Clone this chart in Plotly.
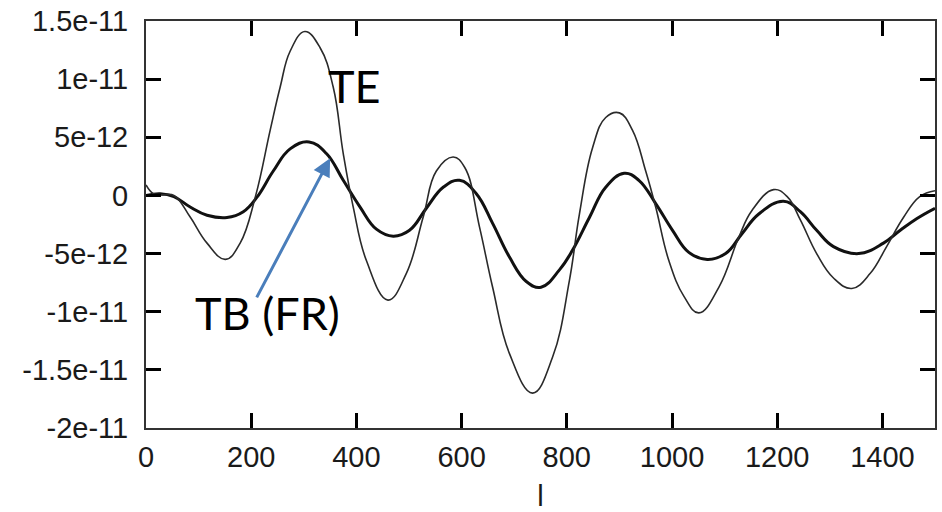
import numpy as np
import plotly.graph_objects as go

UNIT = 1e-12

# TE curve (thin line): multipole l and value (in units of 1e-12)
te_l = [0, 14, 30, 53, 84, 116, 151, 179, 208, 236, 255, 274, 302, 331, 356, 375, 394,
        419, 460, 495, 527, 552, 584, 606, 634, 659, 691, 735, 773, 805, 824, 849, 874,
        900, 925, 950, 969, 994, 1023, 1051, 1089, 1127, 1152, 1193, 1219, 1244, 1275,
        1307, 1342, 1377, 1408, 1440, 1471, 1500]
te_v = [0.9, 0.15, 0.05, 0.0, -1.86, -4.1, -5.5, -4.1, -0.1, 5.6, 9.3, 12.4, 14.1, 12.7, 9.3,
        3.6, -1.0, -5.6, -9.0, -6.7, -1.86, 2.1, 3.3, 2.4, -2.7, -7.9, -13.6, -17.0, -13.9,
        -7.3, -1.6, 4.1, 6.7, 7.1, 5.6, 2.1, -1.0, -5.6, -8.7, -10.1, -7.9, -3.6, -1.3, 0.5,
        -0.1, -2.1, -5.0, -7.1, -8.0, -6.7, -4.4, -1.9, -0.1, 0.4]

# TB (FR) curve (thick line)
tb_l = [0, 27, 53, 84, 116, 154, 185, 211, 242, 274, 310, 343, 375, 407, 438, 470, 501, 533,
        565, 596, 628, 659, 691, 723, 751, 786, 811, 843, 874, 909, 937, 969, 1001, 1032,
        1067, 1102, 1133, 1165, 1212, 1244, 1275, 1307, 1355, 1402, 1434, 1465, 1500]
tb_v = [0.0, 0.15, -0.1, -1.0, -1.7, -1.9, -1.4, -0.15, 2.1, 4.0, 4.6, 3.6, 1.3, -1.0, -2.9,
        -3.5, -3.0, -1.1, 0.7, 1.3, 0.15, -2.4, -5.3, -7.4, -7.9, -6.4, -4.7, -1.9, 0.7, 1.9,
        1.3, -0.7, -3.0, -4.9, -5.5, -5.0, -3.3, -1.6, -0.5, -1.4, -3.0, -4.4, -5.0, -4.1,
        -3.0, -2.0, -1.1]

x_ticks = [0, 200, 400, 600, 800, 1000, 1200, 1400]
y_tickvals = [1.5e-11, 1e-11, 5e-12, 0, -5e-12, -1e-11, -1.5e-11, -2e-11]
y_ticktext = ["1.5e-11", "1e-11", "5e-12", "0", "-5e-12", "-1e-11", "-1.5e-11", "-2e-11"]
X_RANGE = [0, 1500]
Y_RANGE = [-2e-11, 1.5e-11]

fig = go.Figure()
# TE drawn on the overlaid (top/right) axes, which share the same ranges
fig.add_trace(go.Scatter(x=te_l, y=np.array(te_v) * UNIT, mode="lines", name="TE",
                         xaxis="x2", yaxis="y2",
                         line=dict(color="#2a2a2a", width=1.6, shape="spline", smoothing=1.2)))
fig.add_trace(go.Scatter(x=tb_l, y=np.array(tb_v) * UNIT, mode="lines", name="TB (FR)",
                         line=dict(color="#111111", width=3, shape="spline", smoothing=1.2)))

tick_font = dict(family="Liberation Sans, Arial, sans-serif", size=29, color="#1a1a1a")
tick_style = dict(ticks="inside", ticklen=15, tickwidth=3, tickcolor="#000000",
                  showgrid=False, zeroline=False)

fig.update_layout(
    template="none",
    width=942, height=512, margin=dict(l=146, r=7, t=21, b=84),
    paper_bgcolor="white", plot_bgcolor="white", showlegend=False,
    xaxis=dict(range=X_RANGE, tickmode="array", tickvals=x_ticks,
               showline=True, linewidth=2, linecolor="#333333", mirror=True,
               tickfont=tick_font, ticklabelstandoff=2,
               title=dict(text="l", font=tick_font, standoff=28), **tick_style),
    yaxis=dict(range=Y_RANGE, tickmode="array", tickvals=y_tickvals, ticktext=y_ticktext,
               showline=True, linewidth=2, linecolor="#333333", mirror=True,
               tickfont=tick_font, ticklabelstandoff=10, **tick_style),
    xaxis2=dict(range=X_RANGE, overlaying="x", side="top", anchor="y2", matches="x",
                tickmode="array", tickvals=x_ticks, showticklabels=False,
                showline=False, **tick_style),
    yaxis2=dict(range=Y_RANGE, overlaying="y", side="right", anchor="x2", matches="y",
                tickmode="array", tickvals=y_tickvals, showticklabels=False,
                showline=False, **tick_style),
)

ann_font = dict(family="Lato, Open Sans, sans-serif", size=45, color="#000000")
fig.add_annotation(x=397, y=9.4e-12, xref="x", yref="y", text="TE", showarrow=False,
                   font=ann_font, xanchor="center", yanchor="middle")
fig.add_annotation(x=231, y=-10.1e-12, xref="x", yref="y", text="TB (FR)", showarrow=False,
                   font=ann_font, xanchor="center", yanchor="middle")
fig.add_annotation(x=350, y=3.2e-12, ax=209, ay=-8.9e-12, xref="x", yref="y",
                   axref="x", ayref="y", text="", showarrow=True, arrowhead=2,
                   arrowsize=1.2, arrowwidth=3, arrowcolor="#4a7ebb", standoff=0,
                   startstandoff=0)

fig.write_html("out.html")
